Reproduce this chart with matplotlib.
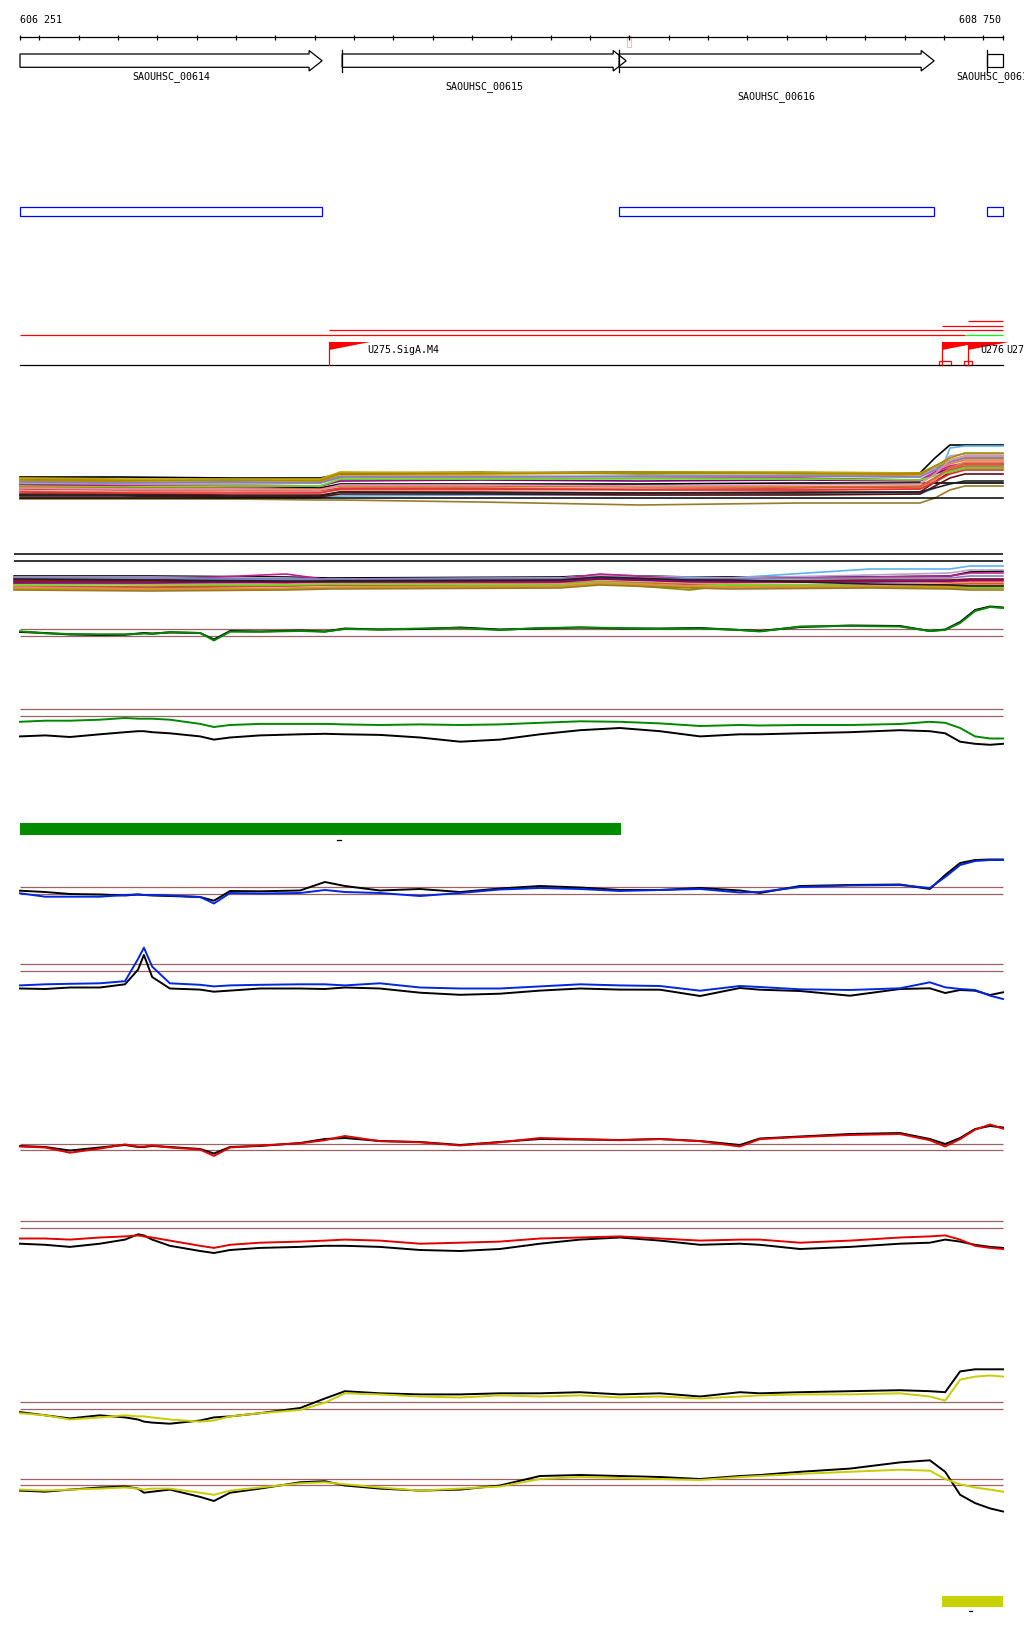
import matplotlib
matplotlib.use("Agg")
from matplotlib import pyplot as plt
from matplotlib.patches import Polygon, Rectangle

# view window (bp) and the pixel columns it occupies in the 1024 x 1640 picture
START, END = 606251, 608750
W, H = 1024, 1640
PX0, PX1 = 20, 1003
BPX = (END - START) / (PX1 - PX0)          # bp per pixel
XLIM = (START - PX0 * BPX, START + (W - PX0) * BPX)
MONO = 'DejaVu Sans Mono'

# ---------------- annotation data
ruler_ticks = list(range(606300, 608701, 100))
marker_pos = [607799]

gene_names = ["SAOUHSC_00614", "SAOUHSC_00615", "SAOUHSC_00616", "SAOUHSC_00617"]
gene_start = [606120, 607070, 607774, 608709]
gene_end = [607019, 607792, 608575, 608900]
gene_label_row = [0, 1, 2, 0]

cds_start = [606251, 607774, 608709]
cds_end = [607019, 608575, 608750]

tx_start = [606251, 607037, 608595, 608661, 608653]
tx_end = [608653, 608750, 608750, 608750, 608750]
tx_row = [0, 1, 2, 3, 0]
tx_color = ['#ff0000', '#ff0000', '#ff0000', '#ff0000', '#00ff00']

prom_names = ["U275.SigA.M4", "U276", "U277"]
prom_pos = [607037, 608595, 608661]
term_start = [608587, 608651]
term_end = [608619, 608671]

green_region = (606251, 607779)
yellow_region = (608595, 608750)

# ---------------- signal data (knots shared by the two-line tracks)
POS = [606251, 606315, 606378, 606454, 606518, 606551, 606566, 606587, 606632, 606709,
       606744, 606785, 606861, 606963, 607026, 607077, 607166, 607268, 607370, 607471,
       607573, 607675, 607776, 607878, 607980, 608081, 608132, 608234, 608361, 608488,
       608564, 608603, 608641, 608679, 608717, 608750]

a_green = [4.7, 2.7, 2, 1.7, 1.7, 2, 2.5, 2, 4, 3, -4.5, 4.3, 4.3, 5, 4.3, 7, 6.5, 7.5, 8, 6,
           8, 8.5, 8, 7, 7.5, 6, 4.5, 9.5, 10, 9.5, 5, 6, 13, 25, 29, 28]
a_black = [4, 3, 1.5, 1, 1.2, 2.5, 3, 2.5, 3.5, 3, -3.5, 5, 4.5, 5.5, 4.5, 7.5, 6.5, 7, 8.5, 6.5,
           7.5, 8.5, 7.5, 7.5, 8, 6, 5, 9, 10.5, 10, 5, 6.5, 14, 26, 29.5, 28.5]
b_green = [-5.8, -4.7, -4.7, -3.7, -2, -2.7, -2.7, -2.7, -3.7, -7.9, -11, -9, -7.9, -7.9, -7.9,
           -8.4, -9, -8.4, -9, -8.4, -6.8, -5.3, -5.8, -7.4, -10, -9, -9.5, -9, -9, -8, -5.8,
           -6.8, -12, -20.4, -22.5, -22.5]
b_black = [-20.4, -19.4, -21, -18.3, -16.2, -15.2, -15.2, -16.2, -17.3, -20.4, -23.6, -21.5,
           -19.4, -18.3, -17.8, -18.3, -18.9, -21.5, -25.7, -23.6, -18.3, -14.2, -12, -15.2,
           -20.4, -18.3, -18.3, -17.3, -16.2, -14.2, -15.2, -17.3, -25.7, -27.8, -28.8, -27.8]
c_blue = [0.7, -2.7, -2.7, -2.7, -1, -0.5, -1, -1, -1.5, -3, -9.5, 1, 0.5, 1, 4, 2, 1, -2, 1,
          4.5, 6, 5, 3, 4, 5, 1.5, 2, 7, 8.5, 9, 6, 17, 29, 33, 34, 34]
c_black = [3.3, 2, 0, -0.5, -1.5, -0.5, -1, -1.5, -2, -3, -6.7, 3, 2.7, 3.5, 12, 8, 3.5, 5, 2,
           5.5, 8, 6.5, 4, 4, 6, 3.5, 1, 8, 9, 9.5, 5, 19, 31, 34, 34.5, 34.5]
d_blue = [-14.4, -13.3, -12.8, -12.3, -10.2, 12, 23.3, 4.4, -12.3, -13.8, -15.4, -14.4, -13.8,
          -13.3, -13.3, -14.4, -12.3, -16.5, -17.5, -17.5, -15.4, -13.3, -14.4, -15, -19.7,
          -15, -16, -18.3, -19, -17.3, -11.3, -16.3, -18, -19, -24.7, -28]
d_black = [-17.5, -18, -16.5, -16.5, -13.3, 1.3, 16, -6, -17.5, -18.6, -20.7, -19.6, -17.5,
           -17.5, -18, -16.5, -17.5, -21.7, -23.8, -22.7, -19.6, -17.5, -18.6, -18.7, -25,
           -17, -18.7, -20, -24.7, -18, -17.3, -22, -19, -19.7, -24, -21.3]
e_red = [3.5, 2.5, -2.7, 1.4, 5.6, 3.5, 3.5, 4.5, 2.5, 0.4, -5.9, 2.5, 4.5, 6.7, 9.8, 14, 8.8,
         7.7, 4.5, 7.7, 12, 10.9, 9.8, 10.9, 8.8, 3.5, 10.9, 13, 15, 16, 9.8, 3.5, 10.9, 20.3,
         25.5, 21.3]
e_black = [4, 3, -0.5, 2.5, 5, 3, 3, 4, 3, 1, -3.5, 3, 4, 7, 11, 12, 9, 8, 5, 8, 11, 10.5, 10,
           11, 9, 5, 11.5, 13.5, 16, 17, 11, 6, 12, 21, 24, 22.5]
f_red = [-10.5, -10.5, -11.6, -9.5, -8.4, -7.4, -8.4, -9.5, -12.6, -17.8, -19.9, -16.8, -14.7,
         -13.6, -12.6, -11.6, -12.6, -15.7, -14.7, -13.6, -10.5, -9.5, -8.4, -10.5, -12.6,
         -11.6, -11.6, -14.7, -12.6, -9.5, -8.4, -7.4, -11.6, -17.8, -19.9, -21]
f_black = [-15.7, -16.8, -18.9, -15.7, -11.6, -6.3, -7.4, -11.6, -17.8, -23, -25, -22, -19.9,
           -18.9, -17.8, -17.8, -18.9, -22, -23, -21, -15.7, -11.6, -9.5, -12.6, -16.8, -15.7,
           -16.8, -21, -18.9, -15.7, -14.7, -11.6, -13.6, -16.8, -18.9, -19.9]
g_yellow = [-4.2, -6.3, -10.5, -8.4, -6.3, -7.4, -7.4, -8.4, -10.5, -12.6, -11.5, -7.4, -4.2,
            -1, 6.3, 15.7, 14.6, 12.5, 11.5, 13.6, 12.5, 13.6, 11.5, 12.5, 10.5, 12.5, 13.6,
            14.6, 14.6, 15.7, 12.5, 8.4, 29.3, 32.4, 33.5, 32.4]
g_black = [-3.1, -6.3, -9.4, -6.3, -8.4, -10.5, -12.6, -13.6, -14.7, -11.5, -8.4, -7.4, -4.2,
           1, 10.5, 17.8, 15.7, 14.6, 14.6, 15.7, 15.7, 16.8, 14.6, 15.7, 12.5, 16.8, 15.7,
           16.8, 17.8, 18.8, 17.8, 16.8, 37.6, 39.7, 39.7, 39.7]
h_yellow = [-4.6, -5.6, -4.6, -3.6, -2.5, -3.6, -4.6, -3.6, -3.6, -7.7, -9.8, -5.6, -2.5, 1.7,
            2.7, 0.7, -2.5, -5.6, -3.6, -1.5, 6, 8, 7, 6, 5, 8, 9, 11.1, 13.2, 15.3, 14.3, 6,
            0.7, -2.5, -4.6, -6.7]
h_black = [-5.6, -6.7, -4.6, -2.5, -1.5, -3.6, -7.7, -6.7, -4.6, -11.9, -16, -7.7, -3.6, 2.7,
           3.8, -0.5, -3.6, -5.6, -4.6, -0.5, 9, 10, 9, 8, 6, 9, 10, 13.2, 16.4, 22.6, 24.7,
           13.2, -9.8, -18.1, -23.4, -26.5]

# ---------------- multi-sample bundles
bundle1_pos = [606251, 606505, 606785, 607014, 607065, 607420, 607827, 608234, 608539,
               608577, 608615, 608653, 608750]
bundle1_colors = ['black', '#5ab4f0', 'black', '#8c8c00', '#e8822a', '#c8503c', '#7a1010',
                  '#800080', '#c0208a', '#b8a0c8', '#66e620', '#9a7a2a', '#f08070', '#d86a20',
                  '#c8a000', '#5a1010', '#8080c0', '#e03030', '#202020', '#a09000', '#e090b0']
bundle1_levels = [
    [21, 21, 20, 20, 24, 25, 26, 25, 25, 40, 53, 53, 53],
    [0, 0, -1, 0, 2, 3, 3, 4, 4, 10, 50, 52, 52],
    [10, 11, 12, 10, 14, 14, 14, 15, 15, 15, 15, 15, 15],
    [19, 18, 17, 18, 25, 26, 24, 25, 24, 30, 36, 40, 40],
    [17, 16, 15, 16, 22, 22, 21, 22, 23, 28, 34, 38, 38],
    [9, 8, 8, 7, 10, 10, 9, 10, 11, 20, 28, 32, 32],
    [4, 4, 3, 3, 6, 6, 5, 6, 6, 16, 26, 30, 30],
    [13, 12, 11, 12, 17, 18, 17, 18, 17, 24, 30, 34, 34],
    [14, 13, 13, 12, 18, 19, 20, 20, 18, 26, 32, 35, 35],
    [15, 14, 14, 15, 20, 20, 21, 22, 21, 30, 42, 44, 44],
    [12, 11, 12, 12, 19, 19, 19, 19, 18, 22, 26, 30, 30],
    [-1, -1, -1, -2, -2, -4, -7, -5, -5, 0, 8, 12, 12],
    [7, 6, 7, 6, 8, 8, 9, 8, 9, 18, 30, 36, 36],
    [11, 10, 10, 9, 12, 12, 11, 11, 12, 20, 30, 34, 34],
    [20, 19, 19, 19, 26, 25, 26, 26, 25, 32, 38, 42, 42],
    [2, 2, 1, 1, 4, 4, 3, 3, 4, 12, 20, 24, 24],
    [16, 15, 16, 15, 21, 21, 22, 22, 21, 28, 36, 40, 40],
    [6, 5, 5, 5, 9, 9, 8, 8, 9, 16, 24, 28, 28],
    [3, 3, 2, 2, 6, 5, 5, 5, 6, 10, 14, 17, 17],
    [18, 17, 18, 17, 24, 24, 25, 24, 24, 32, 40, 45, 45],
    [10, 9, 9, 8, 13, 13, 12, 13, 14, 24, 38, 42, 42],
]

bundle2_pos = [606236, 606581, 606927, 607039, 607624, 607725, 607954, 608056, 608412,
               608615, 608666, 608750]
bundle2_colors = ['black', '#5ab4f0', '#b8a0c8', '#c0208a', '#8c8c00', '#e8822a', '#c8503c',
                  '#66e620', '#e03030', '#7a1010', '#800080', '#f08070', '#c8a000', '#8080c0',
                  '#202020', '#9a7a2a']
bundle2_levels = [
    [15, 15, 14, 13, 14, 16, 14, 14, 14, 15, 19, 20],
    [12, 12, 11, 12, 13, 15, 14, 13, 22, 22, 25, 25],
    [14, 14, 13, 12, 13, 16, 13, 13, 16, 18, 21, 21],
    [11, 11, 17, 11, 12, 17, 12, 12, 14, 15, 18, 18],
    [3, 3, 5, 6, 6, 8, 1, 6, 4, 3, 3, 3],
    [7, 6, 6, 7, 8, 10, 7, 7, 6, 7, 8, 8],
    [5, 4, 5, 6, 6, 9, 6, 5, 6, 6, 7, 7],
    [6, 7, 6, 7, 6, 9, 5, 6, 6, 5, 4, 4],
    [9, 9, 8, 9, 10, 12, 10, 9, 10, 9, 10, 10],
    [10, 10, 9, 10, 11, 13, 11, 10, 11, 11, 12, 12],
    [8, 8, 9, 9, 9, 12, 9, 9, 9, 10, 11, 11],
    [4, 2, 3, 4, 5, 8, 5, 4, 5, 5, 6, 6],
    [2, 1, 2, 3, 4, 7, 4, 3, 4, 4, 5, 5],
    [13, 13, 12, 12, 12, 14, 12, 12, 13, 13, 15, 15],
    [12, 11, 10, 10, 11, 14, 11, 11, 7, 6, 5, 5],
    [1, 0, 1, 2, 3, 6, 3, 2, 3, 2, 1, 1],
]

# ---------------- figure
fig = plt.figure(figsize=(W / 100, H / 100), dpi=100)
ax = fig.add_axes([0, 0, 1, 1])
ax.set_xlim(*XLIM)
ax.set_ylim(H, 0)
ax.axis('off')

# ruler
ax.plot([START, END], [38, 38], color='black', lw=0.9)
ax.vlines([START] + ruler_ticks + [END], 35.5, 40.5, color='black', lw=0.9)
for m in marker_pos:
    ax.add_patch(Rectangle((m - 2 * BPX, 36.5), 4 * BPX, 11.5, fill=False, ec='#f2c4ae', lw=0.8))
ax.text(START, 20, "606 251", ha='left', va='center', family=MONO, fontsize=7.2)
ax.text(END - 2 * BPX, 20, "608 750", ha='right', va='center', family=MONO, fontsize=7.2)

# genes
head = 13 * BPX
for name, s, e, row in zip(gene_names, gene_start, gene_end, gene_label_row):
    s_in, e_in = max(s, START), min(e, END)
    if e <= END:
        pts = [(s_in, 55), (e - head, 55), (e - head, 51.5), (e, 61.8),
               (e - head, 72), (e - head, 68.3), (s_in, 68.3)]
    else:
        pts = [(s_in, 55), (e_in, 55), (e_in, 68.3), (s_in, 68.3)]
    ax.add_patch(Polygon(pts, closed=True, fill=False, ec='black', lw=0.9))
    if s > START:
        ax.plot([s, s], [51, 72.5], color='black', lw=0.9)
    ax.text((s_in + e_in) / 2, 76.3 + 10.3 * row, name, ha='center', va='center',
            family=MONO, fontsize=7.2)

# coding regions
for s, e in zip(cds_start, cds_end):
    ax.add_patch(Rectangle((s, 207.5), e - s, 9.5, fill=False, ec='#0000ff', lw=0.9))

# transcripts, promoters, terminators
tx_y = [336, 331, 327, 322]
for s, e, r, c in zip(tx_start, tx_end, tx_row, tx_color):
    ax.plot([s, e], [tx_y[r], tx_y[r]], color=c, lw=0.9, solid_capstyle='butt')
ax.plot([START, END], [366, 366], color='black', lw=0.9)
for name, p in zip(prom_names, prom_pos):
    ax.add_patch(Polygon([(p, 343), (p + 41 * BPX, 343), (p, 351)], closed=True,
                         fc='#ff0000', ec='none'))
    ax.plot([p, p], [343, 366], color='#ff0000', lw=0.9)
    ax.text(p + 38 * BPX, 350, name, ha='left', va='center', family=MONO, fontsize=7.2)
for s, e in zip(term_start, term_end):
    ax.add_patch(Rectangle((s, 362), e - s, 4, fill=False, ec='#ff0000', lw=0.9))

# region bars
ax.add_patch(Rectangle((green_region[0], 824), green_region[1] - green_region[0], 12,
                       fc='#008c00', ec='none'))
ax.plot([607057, 607066], [841, 841], color='black', lw=0.9)
ax.add_patch(Rectangle((yellow_region[0], 1597), yellow_region[1] - yellow_region[0], 11,
                       fc='#c8d200', ec='none'))
ax.plot([608664, 608672], [1612, 1612], color='black', lw=0.9)


def track(top, bottom, ref):
    t = fig.add_axes([0, 1 - bottom / H, 1, (bottom - top) / H])
    t.set_xlim(*XLIM)
    t.set_ylim(ref - bottom, ref - top)
    t.axis('off')
    return t


# bundles
t1 = track(425, 520, 499)
for lv, c in zip(bundle1_levels, bundle1_colors):
    t1.plot(bundle1_pos, lv, color=c, lw=1.2)
t1.plot([START, END], [0, 0], color='black', lw=1.1)

t2 = track(545, 600, 592)
for lv, c in zip(bundle2_levels, bundle2_colors):
    t2.plot(bundle2_pos, lv, color=c, lw=1.2)
t2.hlines([37, 30], bundle2_pos[0], END, color='black', lw=1.1)

# two-line tracks: (top, bottom, ref, thresholds, colour series, black series, colour)
panels = [
    (595, 650, 637, [0, 7], a_green, a_black, '#008800'),
    (690, 760, 717, [0, 7], b_green, b_black, '#008800'),
    (845, 910, 895, [0, 7], c_blue, c_black, '#0026e0'),
    (940, 1010, 972, [0, 7.5], d_blue, d_black, '#0026e0'),
    (1115, 1165, 1151, [0, 6], e_red, e_black, '#e00000'),
    (1210, 1260, 1229, [0, 7], f_red, f_black, '#e00000'),
    (1360, 1430, 1410, [0, 7], g_yellow, g_black, '#c8cc00'),
    (1450, 1520, 1486, [0, 6], h_yellow, h_black, '#c8cc00'),
]
for top, bottom, ref, thr, col_vals, blk_vals, col in panels:
    t = track(top, bottom, ref)
    t.hlines(thr, START, END, color='#9a6464', lw=0.9)
    t.plot(POS, blk_vals, color='black', lw=1.4)
    t.plot(POS, col_vals, color=col, lw=1.4)

fig.savefig("out.png", dpi=100)
